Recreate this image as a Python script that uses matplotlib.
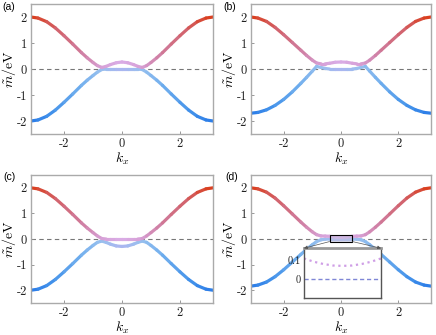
import numpy as np
import matplotlib
matplotlib.use("Agg")
import matplotlib.pyplot as plt
from matplotlib.collections import LineCollection
from matplotlib.colors import LinearSegmentedColormap
from matplotlib.patches import Rectangle, ConnectionPatch

plt.rcParams['mathtext.fontset'] = 'cm'
plt.rcParams['axes.unicode_minus'] = False

# sample points along k_x
kx = [-3.1416, -2.9, -2.6, -2.3, -2.0, -1.7, -1.4, -1.2, -1.0, -0.85, -0.7, -0.55, -0.4, -0.2, 0.0,
      0.2, 0.4, 0.55, 0.7, 0.85, 1.0, 1.2, 1.4, 1.7, 2.0, 2.3, 2.6, 2.9, 3.1416]

upper_a = [2.0, 1.96, 1.82, 1.58, 1.28, 0.96, 0.63, 0.43, 0.25, 0.13, 0.06, 0.10, 0.17, 0.24, 0.27,
           0.24, 0.17, 0.10, 0.06, 0.13, 0.25, 0.43, 0.63, 0.96, 1.28, 1.58, 1.82, 1.96, 2.0]
lower_a = [-2.0, -1.96, -1.82, -1.58, -1.28, -0.96, -0.63, -0.43, -0.25, -0.12, -0.02, 0.0, 0.0, 0.0, 0.0,
           0.0, 0.0, 0.0, -0.02, -0.12, -0.25, -0.43, -0.63, -0.96, -1.28, -1.58, -1.82, -1.96, -2.0]

upper_b = [2.0, 1.96, 1.83, 1.6, 1.32, 1.02, 0.72, 0.52, 0.34, 0.23, 0.20, 0.20, 0.22, 0.26, 0.27,
           0.26, 0.22, 0.20, 0.20, 0.23, 0.34, 0.52, 0.72, 1.02, 1.32, 1.6, 1.83, 1.96, 2.0]
lower_b = [-1.7, -1.67, -1.57, -1.4, -1.17, -0.88, -0.55, -0.32, -0.08, 0.10, 0.06, 0.02, 0.0, 0.0, 0.0,
           0.0, 0.0, 0.02, 0.06, 0.10, -0.08, -0.32, -0.55, -0.88, -1.17, -1.4, -1.57, -1.67, -1.7]

upper_c = [2.0, 1.96, 1.82, 1.58, 1.28, 0.96, 0.63, 0.43, 0.25, 0.12, 0.02, 0.0, 0.0, 0.0, 0.0,
           0.0, 0.0, 0.0, 0.02, 0.12, 0.25, 0.43, 0.63, 0.96, 1.28, 1.58, 1.82, 1.96, 2.0]
lower_c = [-2.0, -1.96, -1.82, -1.58, -1.28, -0.96, -0.63, -0.43, -0.25, -0.13, -0.08, -0.13, -0.2, -0.27, -0.29,
           -0.27, -0.2, -0.13, -0.08, -0.13, -0.25, -0.43, -0.63, -0.96, -1.28, -1.58, -1.82, -1.96, -2.0]

upper_d = [2.0, 1.96, 1.83, 1.6, 1.3, 0.98, 0.66, 0.46, 0.28, 0.17, 0.12, 0.115, 0.107, 0.078, 0.068,
           0.078, 0.107, 0.115, 0.12, 0.17, 0.28, 0.46, 0.66, 0.98, 1.3, 1.6, 1.83, 1.96, 2.0]
lower_d = [-1.84, -1.8, -1.68, -1.47, -1.2, -0.9, -0.6, -0.4, -0.22, -0.1, -0.03, -0.005, 0.0, 0.0, 0.0,
           0.0, 0.0, -0.005, -0.03, -0.1, -0.22, -0.4, -0.6, -0.9, -1.2, -1.47, -1.68, -1.8, -1.84]

# zoomed region of panel (d)
kx_inset = [-0.4, -0.3, -0.2, -0.1, 0.0, 0.1, 0.2, 0.3, 0.4]
upper_inset = [0.107, 0.090, 0.078, 0.070, 0.068, 0.070, 0.078, 0.090, 0.107]
lower_inset = [0.0, 0.0, 0.0, 0.0, 0.0, 0.0, 0.0, 0.0, 0.0]

panel_names = ['(a)', '(b)', '(c)', '(d)']
xtick_vals = [-2, 0, 2]
ytick_vals = [-2, -1, 0, 1, 2]

cmap_up = LinearSegmentedColormap.from_list('up', [(0.0, '#d9ade6'), (0.22, '#d7a0d6'), (0.45, '#cf7b9c'),
                                                    (0.7, '#d2636c'), (1.0, '#db3b17')])
cmap_dn = LinearSegmentedColormap.from_list('dn', [(0.0, '#acb6f0'), (0.22, '#98c0ee'), (0.45, '#72afee'),
                                                    (0.75, '#4493ea'), (1.0, '#2a7ce8')])


def draw_band(ax, k, e, cmap):
    k = np.asarray(k)
    pts = np.column_stack([k, e])
    segs = np.stack([pts[:-1], pts[1:]], axis=1)
    t = np.abs(0.5 * (k[:-1] + k[1:])) / np.pi
    lc = LineCollection(segs, colors=cmap(t), linewidths=2.3, capstyle='round', joinstyle='round')
    ax.add_collection(lc)


def style_axes(ax):
    ax.set_xlim(-np.pi, np.pi)
    ax.set_ylim(-2.5, 2.5)
    ax.set_xticks(xtick_vals)
    ax.set_xticklabels([str(v) for v in xtick_vals], fontfamily='cmr10', fontsize=9)
    ax.set_yticks(ytick_vals)
    ax.set_yticklabels([str(v) for v in ytick_vals], fontfamily='cmr10', fontsize=9)
    ax.tick_params(direction='in', length=2.5, width=0.6, color='#888888', labelcolor='#222222', pad=3)
    for sp in ax.spines.values():
        sp.set_color('#aaaaaa')
        sp.set_linewidth(1.0)
    ax.axhline(0, color='#777777', ls='--', lw=0.8, dashes=(4, 3), zorder=1)
    ax.set_xlabel(r'$k_x$', fontsize=10, labelpad=0)
    ax.set_ylabel(r'$\tilde{m}/\mathrm{eV}$', fontsize=10, labelpad=-1)


fig = plt.figure(figsize=(4.36, 3.35), dpi=100)
rects = [[0.0711, 0.600, 0.4174, 0.388],
         [0.5757, 0.600, 0.4128, 0.388],
         [0.0711, 0.0955, 0.4174, 0.382],
         [0.5757, 0.0955, 0.4128, 0.382]]
bands = [(upper_a, lower_a), (upper_b, lower_b), (upper_c, lower_c), (upper_d, lower_d)]
label_pos = [(0.005, 0.995), (0.512, 0.995), (0.008, 0.487), (0.518, 0.487)]

axes = []
for i, r in enumerate(rects):
    ax = fig.add_axes(r)
    style_axes(ax)
    up, dn = bands[i]
    draw_band(ax, kx, dn, cmap_dn)
    draw_band(ax, kx, up, cmap_up)
    fig.text(label_pos[i][0], label_pos[i][1], panel_names[i], fontsize=7.5,
             fontfamily='Liberation Sans', va='top', ha='left')
    axes.append(ax)

# inset of panel (d)
axd = axes[3]
x0, x1, y0, y1 = -0.4, 0.4, -0.1, 0.16
axd.add_patch(Rectangle((x0, y0), x1 - x0, y1 - y0, facecolor='#c4c4e0', alpha=0.5,
                        edgecolor='none', zorder=5))
axd.add_patch(Rectangle((x0, y0), x1 - x0, y1 - y0, facecolor='none',
                        edgecolor='black', lw=0.8, zorder=6))

axin = fig.add_axes([0.697, 0.110, 0.177, 0.149])
axin.set_xlim(x0, x1)
axin.set_ylim(y0, y1)
axin.plot(kx_inset, lower_inset, ls='--', color='#7f86d6', lw=1.0, dashes=(3, 2))
axin.plot(kx_inset, upper_inset, ls=':', color='#cf9ee6', lw=1.6)
axin.set_xticks([])
axin.set_yticks([0, 0.1])
axin.set_yticklabels(['0', '0.1'], fontfamily='cmr10', fontsize=7.5)
axin.tick_params(direction='in', length=0, pad=2, labelcolor='#222222')
for sp in axin.spines.values():
    sp.set_color('#555555')
    sp.set_linewidth(1.0)
axin.spines['top'].set_color('#999999')
axin.spines['top'].set_linewidth(2.0)

for xa, xb in [((x0, y0), (0, 1)), ((x1, y0), (1, 1))]:
    con = ConnectionPatch(xyA=xa, coordsA=axd.transData, xyB=xb, coordsB=axin.transAxes,
                          arrowstyle='-|>', mutation_scale=5, color='#555555', lw=0.5)
    fig.add_artist(con)

fig.savefig('out.png', dpi=100)
